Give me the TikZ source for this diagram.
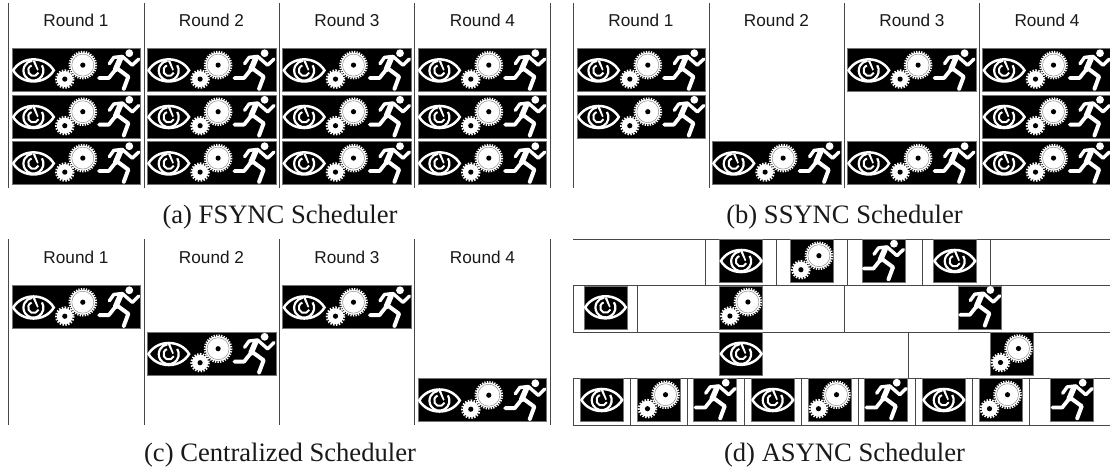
\documentclass[tikz,border=0pt]{standalone}
\usepackage{fontspec}
\setmainfont{Liberation Serif}
\newfontfamily\roundfont{Liberation Sans}
\tikzset{
  x=1pt,y=-1pt,
  rule/.style={draw=black!72,line width=0.9pt},
  roundlabel/.style={font=\roundfont\fontsize{17.2}{20}\selectfont,text=black!90,inner sep=0pt},
  caption/.style={font=\fontsize{26.6}{30}\selectfont,text=black!90,inner sep=0pt},
  ink/.style={draw=white,line cap=round,line join=round},
  blackbox/.style={fill=black,draw=black!55,line width=0.5pt},
  eyeicon/.pic={
    \draw[draw=white,fill=black,line width=2.5pt,line join=miter,miter limit=3]
      (1.2,21.3) .. controls (10,6.6) and (33,6.6) .. (41.8,21.3) .. controls (33,36) and (10,36) .. cycle;
    \draw[ink,line width=2.2pt,line cap=butt] (21.5+8.43,21.5-5.3) arc[start angle=-32,end angle=262,radius=10];
    \draw[ink,line width=2pt,line cap=butt] (21.5+5,21.5+2) arc[start angle=22,end angle=250,radius=5.4];
    \fill[white] (20.5,11.5) -- (23,11.5) -- (26.5,20.5) -- (25.2,21.5) -- cycle;
  },
  gearsicon/.pic={
    \draw[draw=white,line width=2.2pt,dash pattern=on 1.25pt off 1.25pt] (28.2,16) circle[radius=13.2];
    \fill[white] (28.2,16) circle[radius=12.6];
    \draw[draw=black!45,line width=0.5pt] (28.2,16) circle[radius=11];
    \fill[black] (28.2,16) circle[radius=2.6];
    \draw[draw=white,line width=2.2pt,dash pattern=on 1.45pt off 1.45pt] (10.2,30) circle[radius=8.7];
    \fill[white] (10.2,30) circle[radius=8];
    \fill[black] (10.2,30) circle[radius=2.6];
  },
  runnericon/.pic={
    \fill[white] (32,4) circle[radius=3.9];
    \draw[ink,line width=3.4pt] (12,14.5) -- (16.5,8.2) -- (25,7.2) -- (35,16) -- (41.4,9.8);
    \draw[ink,line width=5.6pt] (23,9.5) -- (18.5,20);
    \draw[ink,line width=3.8pt] (18.5,20) -- (11.5,28.8) -- (1.8,28.8);
    \draw[ink,line width=4pt] (19.5,19) -- (31,27.5) -- (26.5,39.6);
  },
  bandicon/.pic={
    \path[blackbox] (0,0) rectangle (128.5,43);
    \pic at (0,0.7) {eyeicon};
    \pic at (42.6,0.7) {gearsicon};
    \pic at (85.3,0.8) {runnericon};
  },
  eyebox/.pic={\path[blackbox] (0,0) rectangle (43,43); \pic at (0,0) {eyeicon};},
  gearbox/.pic={\path[blackbox] (0,0) rectangle (43,43); \pic at (0,0) {gearsicon};},
  runbox/.pic={\path[blackbox] (0,0) rectangle (43,43); \pic at (0,0) {runnericon};},
}
\begin{document}
\begin{tikzpicture}
\useasboundingbox[fill=white] (0,0) rectangle (1110,472);
% panel (a)
\foreach \lx in {8.5,144,279.5,414.7,550} \draw[rule] (\lx,3) -- (\lx,188);
\foreach \bx in {12,147.3,282.7,418} \foreach \by in {48.4,95,141.4} \pic at (\bx,\by) {bandicon};
\node[roundlabel] (a1) at (76,20.5) {Round 1};
\node[roundlabel] (a2) at (211.5,20.5) {Round 2};
\node[roundlabel] (a3) at (347,20.5) {Round 3};
\node[roundlabel] (a4) at (482.5,20.5) {Round 4};
\node[caption] (capa) at (280,217.5) {(a) FSYNC Scheduler};
% panel (b)
\foreach \lx in {573.3,709,844.3,979.3} \draw[rule] (\lx,3) -- (\lx,188);
\foreach \bx/\by in {577/48.4,577/95,712.3/141.4,847.3/48.4,847.3/141.4,982.7/48.4,982.7/95,982.7/141.4} \pic at (\bx,\by) {bandicon};
\node[roundlabel] (b1) at (641,20.5) {Round 1};
\node[roundlabel] (b2) at (776.5,20.5) {Round 2};
\node[roundlabel] (b3) at (912,20.5) {Round 3};
\node[roundlabel] (b4) at (1047,20.5) {Round 4};
\node[caption] (capb) at (844.5,217.5) {(b) SSYNC Scheduler};
% panel (c)
\foreach \lx in {8.5,144,279.5,414.7,550} \draw[rule] (\lx,239.3) -- (\lx,424.7);
\foreach \bx/\by in {12/285.5,147.3/332,282.7/285.5,418/378.5} \pic at (\bx,\by) {bandicon};
\node[roundlabel] (c1) at (76,257.5) {Round 1};
\node[roundlabel] (c2) at (211.5,257.5) {Round 2};
\node[roundlabel] (c3) at (347,257.5) {Round 3};
\node[roundlabel] (c4) at (482.5,257.5) {Round 4};
\node[caption] (capc) at (280,455.5) {(c) Centralized Scheduler};
% panel (d)
\foreach \ly in {239.3,285.7,332.3,378.3,425} \draw[rule] (573.3,\ly) -- (1110,\ly);
\foreach \lx in {705.7,776.7,847.3,922.3,990.3} \draw[rule] (\lx,239.3) -- (\lx,285.7);
\foreach \lx in {573.3,637.3,844.7} \draw[rule] (\lx,285.7) -- (\lx,332.3);
\draw[rule] (908.3,332.3) -- (908.3,378.3);
\foreach \lx in {573.3,630.3,687.3,744.3,801.7,858.7,915.3,972.7,1029.3} \draw[rule] (\lx,378.3) -- (\lx,425);
\pic at (719.7,239.7) {eyebox};
\pic at (790.7,239.7) {gearbox};
\pic at (862,239.7) {runbox};
\pic at (933.3,239.7) {eyebox};
\pic at (584,286) {eyebox};
\pic at (719.7,286) {gearbox};
\pic at (958.3,286) {runbox};
\pic at (719.7,332.5) {eyebox};
\pic at (990.3,332.5) {gearbox};
\pic at (580.3,378.7) {eyebox};
\pic at (637.3,378.7) {gearbox};
\pic at (693.7,378.7) {runbox};
\pic at (751.3,378.7) {eyebox};
\pic at (808.3,378.7) {gearbox};
\pic at (864.7,378.7) {runbox};
\pic at (922.3,378.7) {eyebox};
\pic at (979.3,378.7) {gearbox};
\pic at (1050.7,378.7) {runbox};
\node[caption] (capd) at (844.5,455.5) {(d) ASYNC Scheduler};
\end{tikzpicture}
\end{document}
